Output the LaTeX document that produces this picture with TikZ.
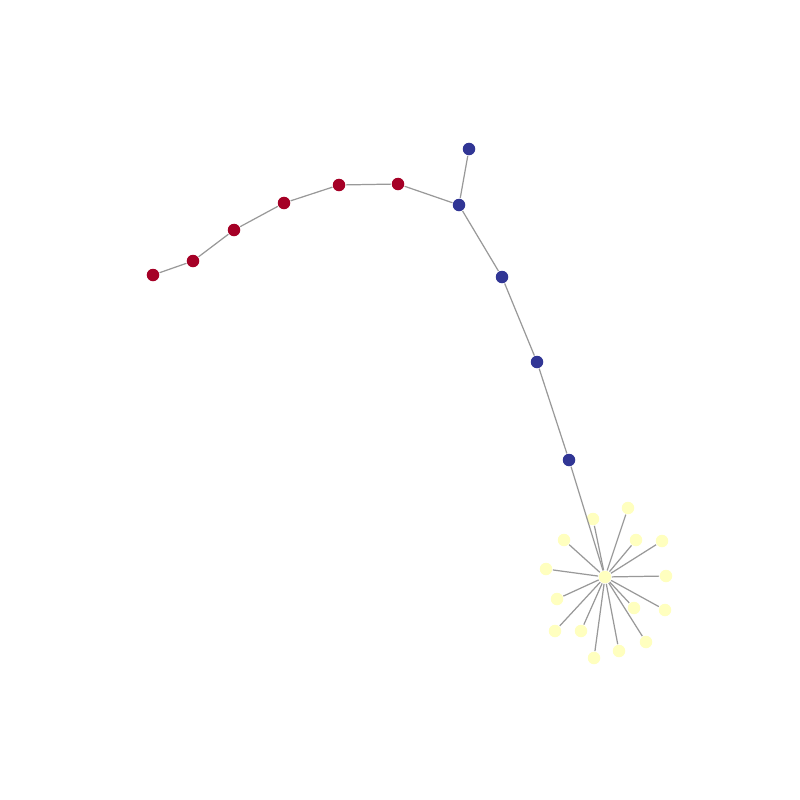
\documentclass[tikz,border=0pt]{standalone}
\definecolor{cred}{HTML}{A50026}
\definecolor{cblue}{HTML}{313695}
\definecolor{cyel}{HTML}{FFFFBF}
\definecolor{cedge}{HTML}{999999}
\tikzset{
  vtx/.style={circle,inner sep=0pt,minimum size=0.125cm,draw=none},
  rv/.style={vtx,fill=cred},
  bv/.style={vtx,fill=cblue},
  yv/.style={vtx,fill=cyel},
  edge/.style={draw=cedge,line width=0.35pt}
}
\begin{document}
\begin{tikzpicture}[x=0.01cm,y=-0.01cm]
\useasboundingbox (0,0) rectangle (800,800);
\node[rv] (r1) at (153,275) {};
\node[rv] (r2) at (193,261) {};
\node[rv] (r3) at (234,230) {};
\node[rv] (r4) at (284,203) {};
\node[rv] (r5) at (339,185) {};
\node[rv] (r6) at (398,184) {};
\node[bv] (b1) at (459,205) {};
\node[bv] (b0) at (469,149) {};
\node[bv] (b2) at (502,277) {};
\node[bv] (b3) at (537,362) {};
\node[bv] (b4) at (569,460) {};
\node[yv] (c) at (605,577) {};
\node[yv] (l1) at (593,519) {};
\node[yv] (l2) at (628,508) {};
\node[yv] (l3) at (564,540) {};
\node[yv] (l4) at (636,540) {};
\node[yv] (l5) at (662,541) {};
\node[yv] (l6) at (546,569) {};
\node[yv] (l7) at (666,576) {};
\node[yv] (l8) at (557,599) {};
\node[yv] (l9) at (634,608) {};
\node[yv] (l10) at (665,610) {};
\node[yv] (l11) at (555,631) {};
\node[yv] (l12) at (581,631) {};
\node[yv] (l13) at (646,642) {};
\node[yv] (l14) at (619,651) {};
\node[yv] (l15) at (594,658) {};
\foreach \a/\b in {r1/r2,r2/r3,r3/r4,r4/r5,r5/r6,r6/b1,b1/b0,b1/b2,b2/b3,b3/b4,b4/c,
  c/l1,c/l2,c/l3,c/l4,c/l5,c/l6,c/l7,c/l8,c/l9,c/l10,c/l11,c/l12,c/l13,c/l14,c/l15}
  \draw[edge] (\a) -- (\b);
\end{tikzpicture}
\end{document}
